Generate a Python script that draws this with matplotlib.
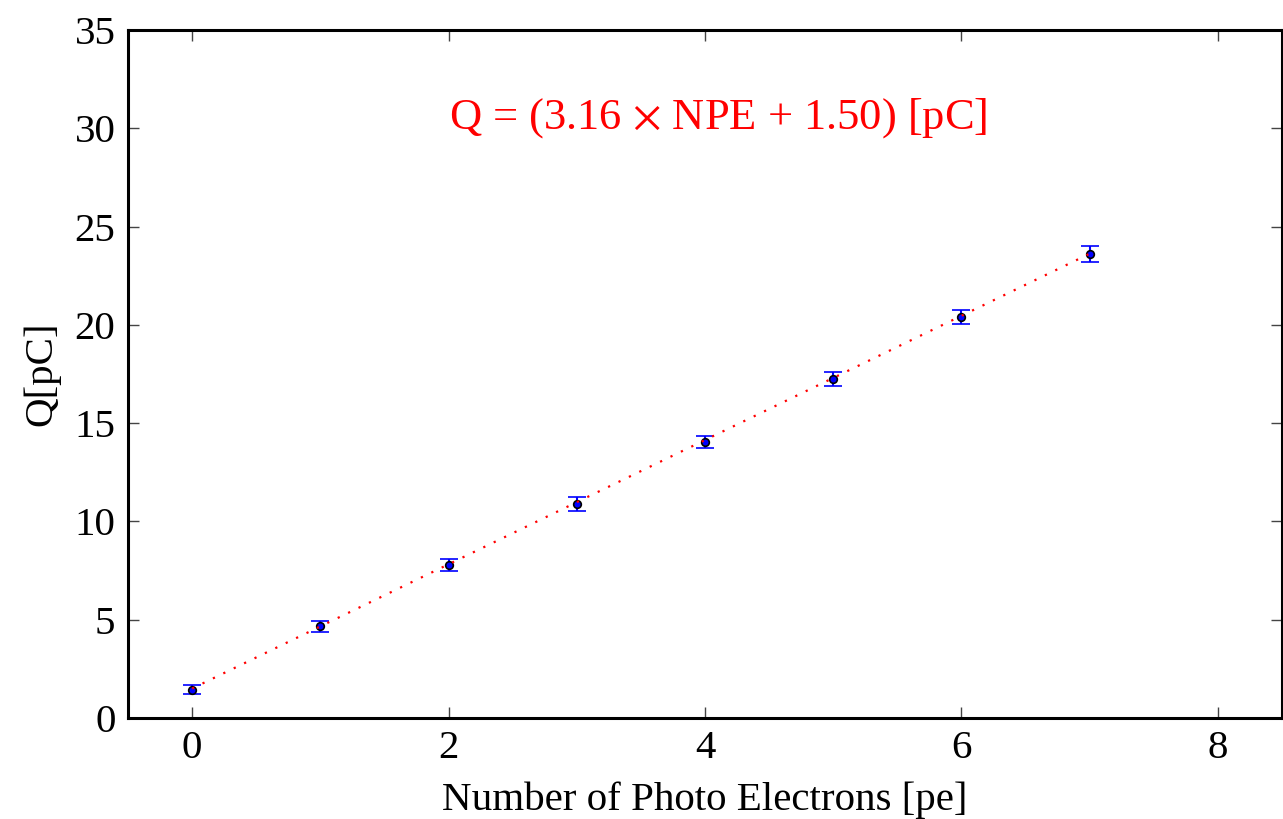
import numpy as np
import matplotlib
matplotlib.use("Agg")
import matplotlib.pyplot as plt

plt.rcParams['font.family'] = ['Liberation Serif', 'DejaVu Serif']
plt.rcParams['mathtext.fontset'] = 'stix'

# measured charge vs number of photo electrons
npe = [0, 1, 2, 3, 4, 5, 6, 7]
charge = [1.44, 4.66, 7.80, 10.90, 14.04, 17.25, 20.40, 23.60]
charge_err = [0.22, 0.28, 0.30, 0.36, 0.32, 0.37, 0.38, 0.40]
slope, offset = 3.16, 1.50

fig = plt.figure(figsize=(12.83, 8.19), dpi=100)
ax = fig.add_axes([128/1283, 101/819, 1154/1283, 688/819])

ax.errorbar(npe, charge, yerr=charge_err, fmt="o", color="b", mfc="b", mec="k",
            ms=5.5, mew=1.2, ecolor="b", elinewidth=1.5, capsize=6.5, capthick=1.5, zorder=2)
fit_x = np.array([npe[0], npe[-1]])
ax.plot(fit_x, slope * fit_x + offset, color="r", lw=1.6, ls=(0, (1, 4.2)), zorder=3)

ax.text(4.1, 30.5, r"Q = (3.16 $\times$ NPE + 1.50) [pC]", color="r", fontsize=32,
        ha="center", va="center")

ax.set_xlim(-0.5, 8.5); ax.set_ylim(0, 35)
ax.set_xticks([0, 2, 4, 6, 8]); ax.set_yticks(range(0, 36, 5))
ax.set_xlabel("Number of Photo Electrons [pe]", fontsize=29.5, labelpad=10)
ax.set_ylabel("Q[pC]", fontsize=29.5, labelpad=10)
ax.tick_params(direction="in", length=8, width=1, color="#444444", labelsize=29.5,
               top=True, right=True, pad=9)
for s in ax.spines.values():
  s.set_linewidth(2.2)

fig.savefig("out.png", dpi=100)
